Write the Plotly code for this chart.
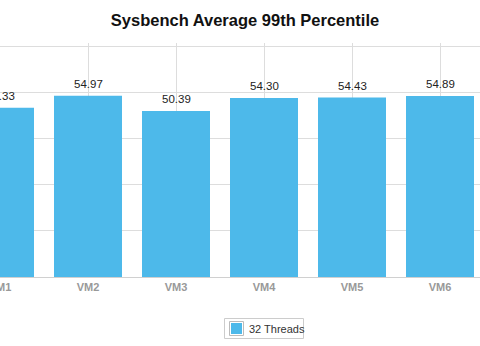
import plotly.graph_objects as go

categories = ["VM1", "VM2", "VM3", "VM4", "VM5", "VM6"]
values_32 = [51.33, 54.97, 50.39, 54.30, 54.43, 54.89]
series_name = "32 Threads"
labels = [f"{v:.2f}" for v in values_32]

W, H = 480, 346
T, B = 43, 69
plot_h = H - T - B
cat_px = 88.0
bar_color = "#4db9ea"
font_fam = "Liberation Sans, Arial, sans-serif"


def px_x(x):
    return x / W


def px_y(y):
    return (H - B - y) / plot_h


fig = go.Figure()
fig.add_trace(go.Bar(
    x=list(range(len(categories))),
    y=values_32,
    name=series_name,
    marker=dict(color=bar_color, line=dict(width=0)),
    showlegend=False,
))

# value labels above bars
for i, (v, t) in enumerate(zip(values_32, labels)):
    fig.add_annotation(
        x=i, y=v, xref="x", yref="y", text=t, showarrow=False,
        yanchor="bottom", yshift=4,
        font=dict(family=font_fam, size=11.5, color="#222"),
    )

# legend (drawn manually for compact box)
shapes = [
    dict(type="rect", xref="paper", yref="paper",
         x0=px_x(224.5), x1=px_x(303.5), y0=px_y(318.5), y1=px_y(338.5),
         line=dict(color="#cccccc", width=1), fillcolor="white"),
    dict(type="rect", xref="paper", yref="paper",
         x0=px_x(229.5), x1=px_x(243.5), y0=px_y(321.5), y1=px_y(335.5),
         line=dict(color="#bbbbbb", width=1), fillcolor="white"),
    dict(type="rect", xref="paper", yref="paper",
         x0=px_x(231), x1=px_x(242), y0=px_y(323), y1=px_y(334),
         line=dict(width=0), fillcolor=bar_color),
]
fig.add_annotation(
    x=px_x(247), y=px_y(328.5), xref="paper", yref="paper",
    text=series_name, showarrow=False, xanchor="left", yanchor="middle",
    font=dict(family=font_fam, size=11, color="#333"),
)

fig.update_layout(
    width=W, height=H,
    margin=dict(l=0, r=0, t=T, b=B, autoexpand=False),
    paper_bgcolor="white",
    plot_bgcolor="white",
    bargap=20 / 88,
    shapes=shapes,
    showlegend=False,
    title=dict(
        text="<b>Sysbench Average 99th Percentile</b>",
        x=245 / W, xanchor="center", y=1 - 20 / H, yanchor="middle",
        font=dict(family=font_fam, size=16.5, color="#111"),
    ),
    xaxis=dict(
        range=[0, W / cat_px],
        automargin=False,
        tickmode="array",
        tickvals=list(range(len(categories))),
        ticktext=[f"<b>{c}</b>" for c in categories],
        tickson="boundaries",
        ticklabeloverflow="allow",
        showgrid=True, gridcolor="#dddddd", gridwidth=1,
        showline=True, linecolor="#d0d0d0", linewidth=1,
        ticks="", ticklen=0,
        tickfont=dict(family=font_fam, size=11, color="#999999"),
        zeroline=False,
    ),
    yaxis=dict(
        range=[0, 71], dtick=14, tick0=0,
        automargin=False,
        showgrid=True, gridcolor="#dddddd", gridwidth=1,
        showticklabels=False, zeroline=False, showline=False,
    ),
)

fig.write_html("out.html")
